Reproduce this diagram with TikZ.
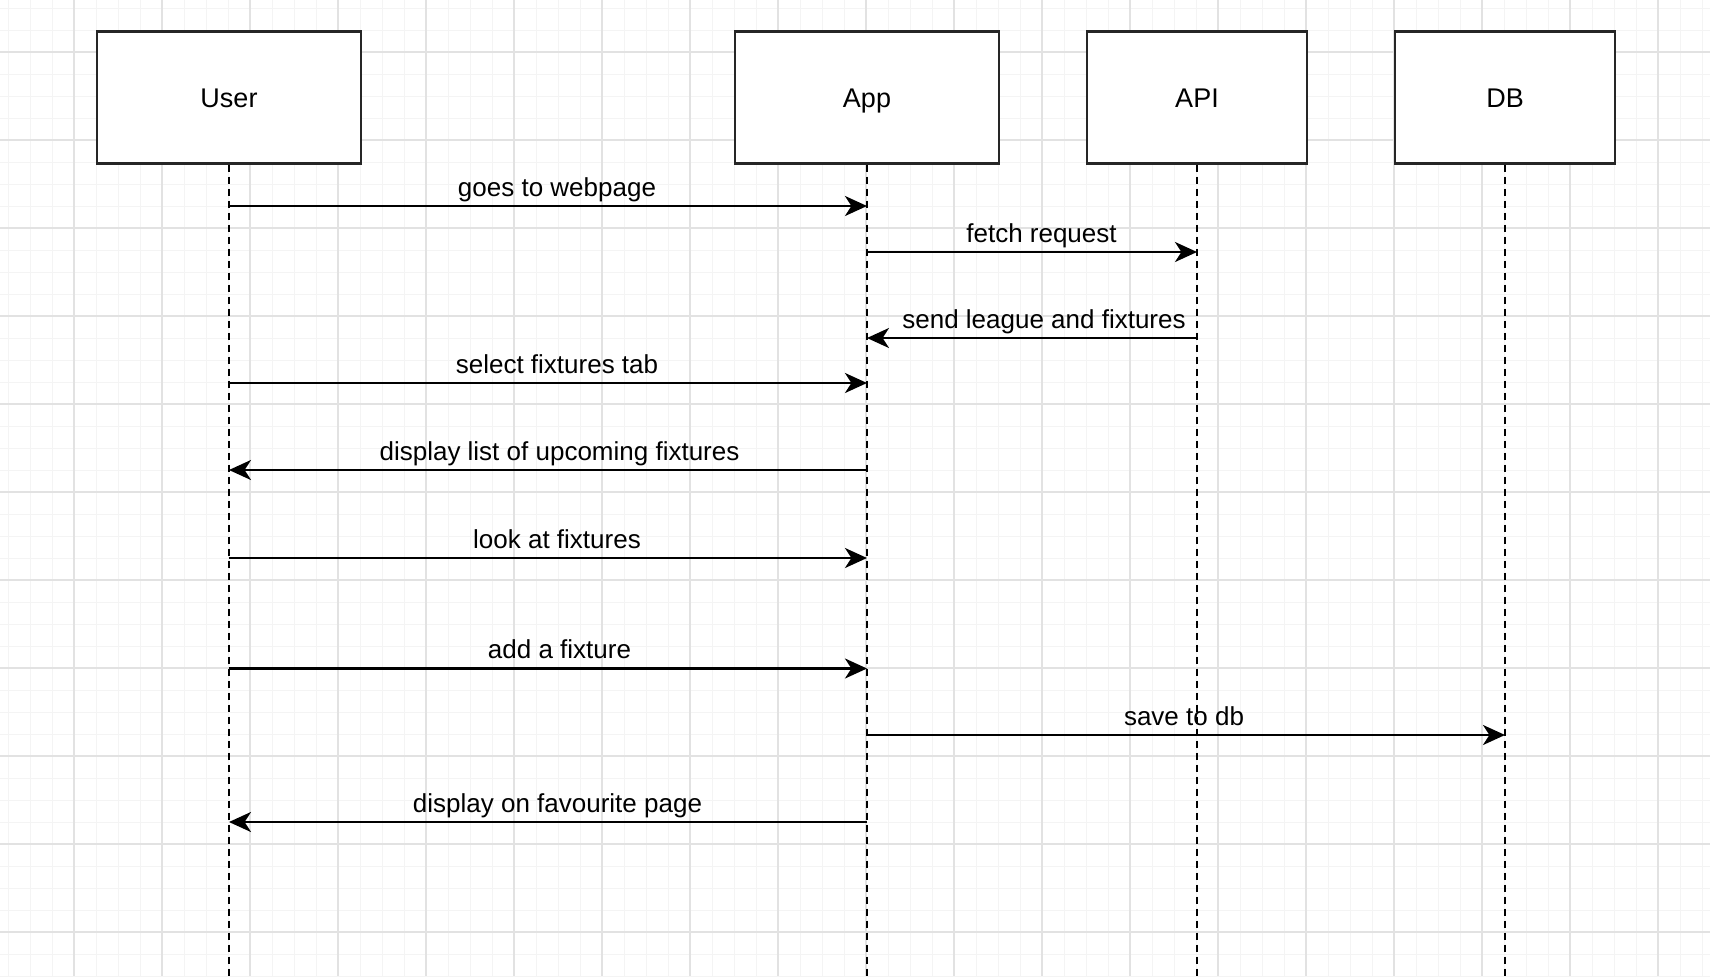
\documentclass[tikz,border=0pt]{standalone}
\usepackage{fontspec}
\setmainfont{Liberation Sans}
\usetikzlibrary{arrows.meta}
\definecolor{gridminor}{HTML}{F4F4F4}
\definecolor{gridmajor}{HTML}{E2E2E2}
\tikzset{
  minorgrid/.style={draw=gridminor, line width=0.5pt},
  majorgrid/.style={draw=gridmajor, line width=0.6pt},
  actor/.style={draw=black!85, line width=1.2pt, fill=white, minimum height=66pt, font=\fontsize{13.5pt}{15pt}\selectfont, inner sep=0pt, text height=9.6pt, text depth=0pt},
  life/.style={draw=black, line width=1pt, dash pattern=on 3.5pt off 2.5pt},
  msg/.style={draw=black, line width=1.2pt, -{Stealth[length=11pt,width=10pt,inset=3.2pt]}},
  lbl/.style={font=\fontsize{13pt}{15pt}\selectfont, anchor=base, inner sep=0pt}
}
\begin{document}
\begin{tikzpicture}[x=0.5pt, y=-0.5pt]
\useasboundingbox (0,0) rectangle (1710,976);
\fill[white] (0,0) rectangle (1710,976);
% grid
\foreach \x in {8,30,...,1710} \draw[minorgrid] (\x,0) -- (\x,976);
\foreach \y in {8,30,...,976} \draw[minorgrid] (0,\y) -- (1710,\y);
\foreach \x in {74,162,...,1710} \draw[majorgrid] (\x,0) -- (\x,976);
\foreach \y in {52,140,...,976} \draw[majorgrid] (0,\y) -- (1710,\y);
% lifelines
\coordinate (userend) at (229,976);
\coordinate (append) at (867,976);
\coordinate (apiend) at (1197,976);
\coordinate (dbend) at (1505,976);
\node[actor, minimum width=132pt] (user) at (229,97.5) {User};
\node[actor, minimum width=132pt] (app) at (867,97.5) {App};
\node[actor, minimum width=110pt] (api) at (1197,97.5) {API};
\node[actor, minimum width=110pt] (db) at (1505,97.5) {DB};
\draw[life] (user.south) -- (userend);
\draw[life] (app.south) -- (append);
\draw[life] (api.south) -- (apiend);
\draw[life] (db.south) -- (dbend);
% messages
\draw[msg] (user |- 0,206) -- (app |- 0,206);
\node[lbl] (m1) at (557,196) {goes to webpage};
\draw[msg] (app |- 0,252) -- (api |- 0,252);
\node[lbl] (m2) at (1041.5,242) {fetch request};
\draw[msg] (api |- 0,338) -- (app |- 0,338);
\node[lbl] (m3) at (1044,328) {send league and fixtures};
\draw[msg] (user |- 0,383) -- (app |- 0,383);
\node[lbl] (m4) at (557,373) {select fixtures tab};
\draw[msg] (app |- 0,470) -- (user |- 0,470);
\node[lbl] (m5) at (559.5,460) {display list of upcoming fixtures};
\draw[msg] (user |- 0,558) -- (app |- 0,558);
\node[lbl] (m6) at (557,548) {look at fixtures};
\draw[msg] (user |- 0,668.5) -- (app |- 0,668.5);
\node[lbl] (m7) at (559.5,658.5) {add a fixture};
\draw[msg] (app |- 0,735) -- (db |- 0,735);
\node[lbl] (m8) at (1184,725) {save to db};
\draw[msg] (app |- 0,822) -- (user |- 0,822);
\node[lbl] (m9) at (557.5,812) {display on favourite page};
\end{tikzpicture}
\end{document}
